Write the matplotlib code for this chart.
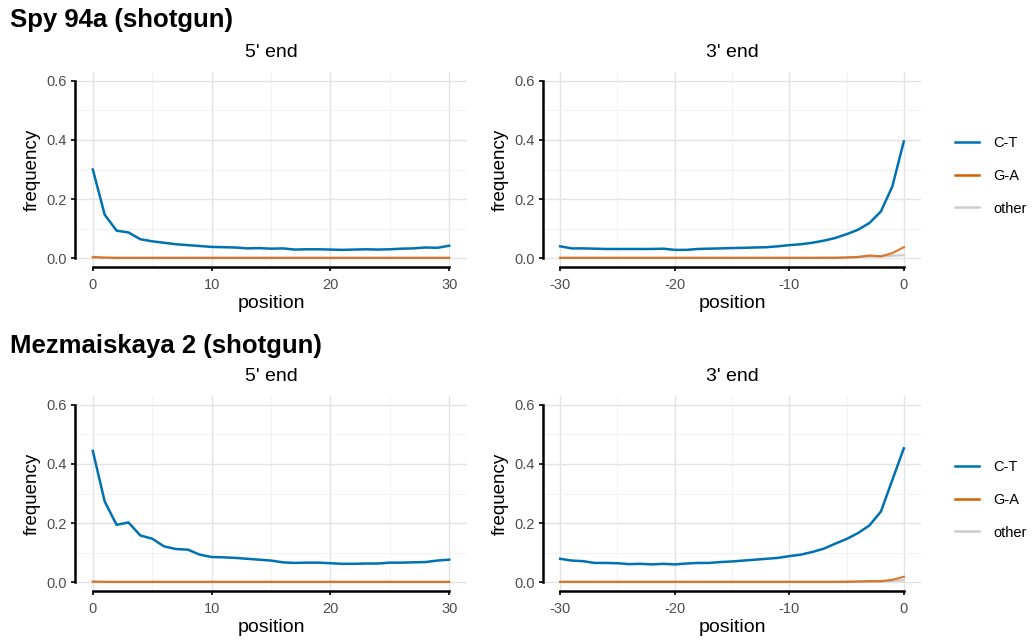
import matplotlib
matplotlib.use("Agg")
import matplotlib.pyplot as plt
from matplotlib.lines import Line2D
import numpy as np

plt.rcParams['font.family'] = ['Liberation Sans', 'DejaVu Sans']
plt.rcParams['axes.unicode_minus'] = False

# data: positions
pos5 = list(range(0, 31))
pos3 = list(range(-30, 1))

# Spy 94a (shotgun)
spy_ct_5 = [0.300, 0.147, 0.093, 0.087, 0.064, 0.057, 0.052, 0.047, 0.044, 0.041,
            0.038, 0.037, 0.036, 0.033, 0.034, 0.032, 0.033, 0.029, 0.030, 0.030,
            0.029, 0.028, 0.029, 0.030, 0.029, 0.030, 0.032, 0.033, 0.036, 0.035, 0.042]
spy_ga_5 = [0.004, 0.002, 0.001, 0.001, 0.001, 0.001, 0.001, 0.001, 0.001, 0.001,
            0.001, 0.001, 0.001, 0.001, 0.001, 0.001, 0.001, 0.001, 0.001, 0.001,
            0.001, 0.001, 0.001, 0.001, 0.001, 0.001, 0.001, 0.001, 0.001, 0.001, 0.001]
spy_ct_3 = [0.040, 0.033, 0.033, 0.032, 0.031, 0.031, 0.031, 0.031, 0.031, 0.032,
            0.028, 0.028, 0.031, 0.032, 0.033, 0.034, 0.035, 0.036, 0.037, 0.040,
            0.044, 0.047, 0.052, 0.059, 0.068, 0.081, 0.096, 0.119, 0.158, 0.243, 0.395]
spy_ga_3 = [0.001, 0.001, 0.001, 0.001, 0.001, 0.001, 0.001, 0.001, 0.001, 0.001,
            0.001, 0.001, 0.001, 0.001, 0.001, 0.001, 0.001, 0.001, 0.001, 0.001,
            0.001, 0.001, 0.001, 0.001, 0.001, 0.002, 0.004, 0.009, 0.006, 0.017, 0.037]
spy_other_3 = [0.001, 0.001, 0.001, 0.001, 0.001, 0.001, 0.001, 0.001, 0.001, 0.001,
               0.001, 0.001, 0.001, 0.001, 0.001, 0.001, 0.001, 0.001, 0.001, 0.001,
               0.001, 0.001, 0.001, 0.002, 0.002, 0.003, 0.004, 0.005, 0.006, 0.008, 0.010]

# Mezmaiskaya 2 (shotgun)
mez_ct_5 = [0.444, 0.273, 0.194, 0.202, 0.158, 0.147, 0.121, 0.112, 0.110, 0.093,
            0.085, 0.084, 0.082, 0.079, 0.076, 0.073, 0.067, 0.065, 0.066, 0.066,
            0.064, 0.062, 0.062, 0.063, 0.063, 0.066, 0.066, 0.067, 0.068, 0.073, 0.076]
mez_ga_5 = [0.002, 0.001, 0.001, 0.001, 0.001, 0.001, 0.001, 0.001, 0.001, 0.001,
            0.001, 0.001, 0.001, 0.001, 0.001, 0.001, 0.001, 0.001, 0.001, 0.001,
            0.001, 0.001, 0.001, 0.001, 0.001, 0.001, 0.001, 0.001, 0.001, 0.001, 0.001]
mez_ct_3 = [0.079, 0.073, 0.071, 0.065, 0.065, 0.064, 0.061, 0.062, 0.060, 0.062,
            0.060, 0.063, 0.065, 0.065, 0.068, 0.070, 0.073, 0.076, 0.079, 0.082,
            0.088, 0.093, 0.102, 0.113, 0.130, 0.146, 0.166, 0.192, 0.239, 0.346, 0.453]
mez_ga_3 = [0.001, 0.001, 0.001, 0.001, 0.001, 0.001, 0.001, 0.001, 0.001, 0.001,
            0.001, 0.001, 0.001, 0.001, 0.001, 0.001, 0.001, 0.001, 0.001, 0.001,
            0.001, 0.001, 0.001, 0.001, 0.001, 0.001, 0.002, 0.003, 0.003, 0.008, 0.018]
mez_other_3 = [0.001, 0.001, 0.001, 0.001, 0.001, 0.001, 0.001, 0.001, 0.001, 0.001,
               0.001, 0.001, 0.001, 0.001, 0.001, 0.001, 0.001, 0.001, 0.001, 0.001,
               0.001, 0.001, 0.001, 0.001, 0.001, 0.002, 0.002, 0.003, 0.003, 0.004, 0.006]
other_flat = [0.001] * 31

titles = ["Spy 94a (shotgun)", "Mezmaiskaya 2 (shotgun)"]
labels = ["C-T", "G-A", "other"]
colors = ["#0072B2", "#D55E00", "#CCCCCC"]

panels = [
    [(pos5, spy_ct_5, spy_ga_5, other_flat, "5' end", (0, 30)),
     (pos3, spy_ct_3, spy_ga_3, spy_other_3, "3' end", (-30, 0))],
    [(pos5, mez_ct_5, mez_ga_5, other_flat, "5' end", (0, 30)),
     (pos3, mez_ct_3, mez_ga_3, mez_other_3, "3' end", (-30, 0))],
]

fig = plt.figure(figsize=(10.34, 6.44), dpi=100)
W, H = 1034.0, 644.0

lefts = [75, 543]
widths = [392, 378]
tops = [72, 396]
title_y = [20, 346]
height = 195

for r in range(2):
    fig.text(10 / W, 1 - title_y[r] / H, titles[r], fontsize=18.5, fontweight='bold',
             ha='left', va='center', color='black')
    for c in range(2):
        x, ct, ga, oth, ttl, xr = panels[r][c]
        ax = fig.add_axes([lefts[c] / W, 1 - (tops[r] + height) / H,
                           widths[c] / W, height / H])
        ax.set_facecolor('white')
        ax.plot(x, oth, color=colors[2], lw=1.6, zorder=2)
        ax.plot(x, ga, color=colors[1], lw=1.6, zorder=3, alpha=0.8)
        ax.plot(x, ct, color=colors[0], lw=1.8, zorder=4)
        ax.set_xlim(xr[0] - 1.5, xr[1] + 1.5)
        ax.set_ylim(-0.03, 0.63)
        ax.set_xticks(np.arange(xr[0], xr[1] + 1, 10))
        ax.set_xticks(np.arange(xr[0] + 5, xr[1], 10), minor=True)
        ax.set_yticks([0.0, 0.2, 0.4, 0.6])
        ax.set_yticks([0.1, 0.3, 0.5], minor=True)
        ax.set_yticklabels(["0.0", "0.2", "0.4", "0.6"])
        ax.grid(True, which='major', color='#E3E3E3', lw=1.0, zorder=0)
        ax.grid(True, which='minor', color='#F0F0F0', lw=0.6, zorder=0)
        ax.set_axisbelow(True)
        for s in ['top', 'right']:
            ax.spines[s].set_visible(False)
        ax.spines['left'].set_bounds(0, 0.6)
        ax.spines['bottom'].set_bounds(xr[0], xr[1])
        ax.spines['left'].set_linewidth(1.8)
        ax.spines['bottom'].set_linewidth(1.8)
        ax.tick_params(which='major', length=3, width=1.2, color='black',
                       labelsize=10.5, labelcolor='#4D4D4D')
        ax.tick_params(axis='x', which='major', pad=5)
        ax.tick_params(axis='y', which='major', pad=3)
        ax.tick_params(which='minor', length=0)
        ax.set_xlabel("position", fontsize=14, labelpad=2)
        ax.set_ylabel("frequency", fontsize=13.5, labelpad=4)
        ax.set_title(ttl, fontsize=14, pad=11)

    handles = [Line2D([], [], color=colors[i], lw=1.8) for i in range(3)]
    leg_y = 1 - (tops[r] + 104) / H
    fig.legend(handles, labels, loc='center left', bbox_to_anchor=(942 / W, leg_y),
               frameon=False, fontsize=10.5, handlelength=1.65, labelspacing=1.27,
               handletextpad=0.95)

fig.savefig("out.png", dpi=100, facecolor='white')
